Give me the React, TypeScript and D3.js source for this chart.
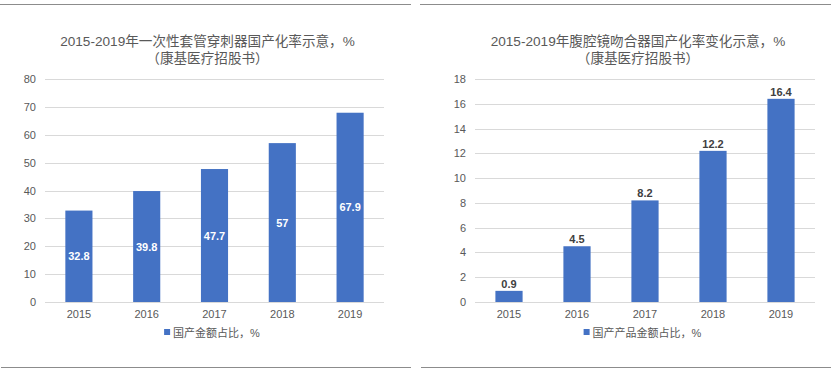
import React, { useEffect, useRef } from "react";
import * as d3 from "d3";

// data
const years = ["2015", "2016", "2017", "2018", "2019"];
const trocarValues = [32.8, 39.8, 47.7, 57, 67.9];
const staplerValues = [0.9, 4.5, 8.2, 12.2, 16.4];
const trocarTicks = [0, 10, 20, 30, 40, 50, 60, 70, 80];
const staplerTicks = [0, 2, 4, 6, 8, 10, 12, 14, 16, 18];

const FONT = "'Liberation Sans', 'Noto Sans CJK SC', sans-serif";
const BAR = "#4472C4";
const TEXT = "#595959";

type PanelProps = {
  x0: number;
  width: number;
  plotLeft: number;
  plotRight: number;
  titleLines: string[];
  legend: string;
  values: number[];
  ticks: number[];
  labelsInside: boolean;
};

const Panel = ({ x0, width, plotLeft, plotRight, titleLines, legend, values, ticks, labelsInside }: PanelProps) => {
  const ref = useRef<SVGGElement>(null);

  useEffect(() => {
    const g = d3.select(ref.current);
    g.selectAll("*").remove();

    const top = 79;
    const bottom = 302;

    // frame lines top and bottom
    g.append("line").attr("x1", 0).attr("x2", width).attr("y1", 4.5).attr("y2", 4.5)
      .attr("stroke", "#8c8c8c").attr("stroke-width", 1);
    g.append("line").attr("x1", 1).attr("x2", width).attr("y1", 367.5).attr("y2", 367.5)
      .attr("stroke", "#8c8c8c").attr("stroke-width", 1);

    const x = d3.scaleBand().domain(years).range([plotLeft, plotRight]).paddingInner(0.6).paddingOuter(0.3);
    const y = d3.scaleLinear().domain([0, d3.max(ticks) as number]).range([bottom, top]);

    // title
    const title = g.append("text").attr("text-anchor", "middle").attr("fill", TEXT)
      .style("font-family", FONT).style("font-size", "13.6px");
    titleLines.forEach((t, i) => {
      title.append("tspan").attr("x", (plotLeft + plotRight) / 2 - 7).attr("y", 46 + i * 17).text(t);
    });

    // grid
    g.append("g").selectAll("line").data(ticks).enter().append("line")
      .attr("x1", plotLeft).attr("x2", plotRight)
      .attr("y1", d => Math.round(y(d)) + 0.5).attr("y2", d => Math.round(y(d)) + 0.5)
      .attr("stroke", "#d9d9d9");

    // y axis labels
    g.append("g").selectAll("text").data(ticks).enter().append("text")
      .attr("x", plotLeft - 9).attr("y", d => y(d) + 4)
      .attr("text-anchor", "end").attr("fill", TEXT)
      .style("font-family", FONT).style("font-size", "11px")
      .text(d => d);

    // x axis labels
    g.append("g").selectAll("text").data(years).enter().append("text")
      .attr("x", d => (x(d) as number) + x.bandwidth() / 2).attr("y", 318)
      .attr("text-anchor", "middle").attr("fill", TEXT)
      .style("font-family", FONT).style("font-size", "11px")
      .text(d => d);

    // bars
    g.append("g").selectAll("rect").data(values).enter().append("rect")
      .attr("x", (d, i) => x(years[i]) as number)
      .attr("y", d => y(d))
      .attr("width", x.bandwidth())
      .attr("height", d => bottom - y(d))
      .attr("fill", BAR);

    // value labels
    g.append("g").selectAll("text").data(values).enter().append("text")
      .attr("x", (d, i) => (x(years[i]) as number) + x.bandwidth() / 2)
      .attr("y", d => labelsInside ? (y(d) + bottom) / 2 + 4 : y(d) - 3)
      .attr("text-anchor", "middle")
      .attr("fill", labelsInside ? "#ffffff" : "#404040")
      .style("font-family", FONT).style("font-size", "11px").style("font-weight", "bold")
      .text(d => d);

    // legend
    const lg = g.append("g");
    const lt = lg.append("text").attr("y", 337).attr("fill", TEXT)
      .style("font-family", FONT).style("font-size", "11px").text(legend);
    const tw = (lt.node() as SVGTextElement).getComputedTextLength();
    const cx = (plotLeft + plotRight) / 2;
    const startX = cx - (tw + 10) / 2 - 2;
    lg.append("rect").attr("x", startX).attr("y", 329).attr("width", 6).attr("height", 6).attr("fill", BAR);
    lt.attr("x", startX + 9);
  }, []);

  return <g ref={ref} transform={`translate(${x0},0)`} />;
};

export default function App() {
  return (
    <svg width={831} height={374} style={{ position: "absolute", left: 0, top: 0, background: "#fff" }}>
      <Panel
        x0={0}
        width={411}
        plotLeft={45}
        plotRight={384}
        titleLines={["2015-2019年一次性套管穿刺器国产化率示意，%", "（康基医疗招股书）"]}
        legend="国产金额占比，%"
        values={trocarValues}
        ticks={trocarTicks}
        labelsInside={true}
      />
      <Panel
        x0={420}
        width={411}
        plotLeft={55}
        plotRight={395}
        titleLines={["2015-2019年腹腔镜吻合器国产化率变化示意，%", "（康基医疗招股书）"]}
        legend="国产产品金额占比，%"
        values={staplerValues}
        ticks={staplerTicks}
        labelsInside={false}
      />
    </svg>
  );
}
